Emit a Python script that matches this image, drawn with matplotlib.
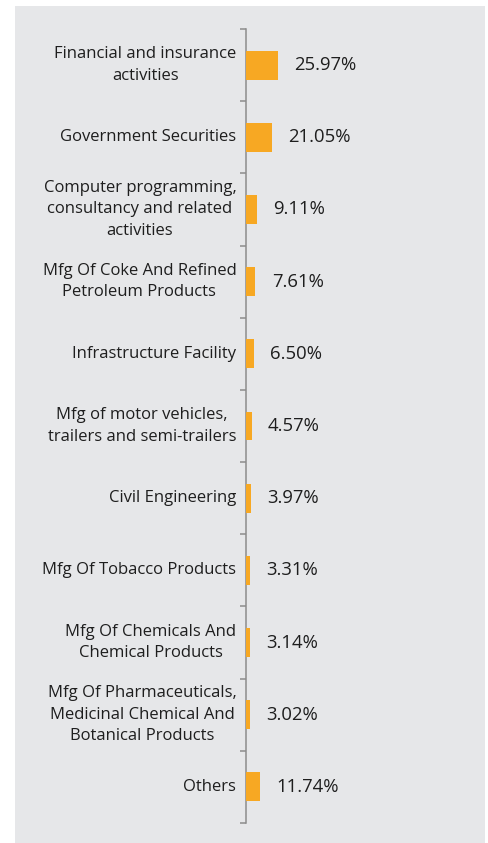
import matplotlib.pyplot as plt
from matplotlib.patches import Rectangle
import numpy as np

plt.rcParams['font.family'] = ['Open Sans', 'DejaVu Sans']

# Sector allocation (% of net assets)
sectors = [
    'Financial and insurance\nactivities',
    'Government Securities',
    'Computer programming,\nconsultancy and related\nactivities',
    'Mfg Of Coke And Refined\nPetroleum Products',
    'Infrastructure Facility',
    'Mfg of motor vehicles,\ntrailers and semi-trailers',
    'Civil Engineering',
    'Mfg Of Tobacco Products',
    'Mfg Of Chemicals And\nChemical Products',
    'Mfg Of Pharmaceuticals,\nMedicinal Chemical And\nBotanical Products',
    'Others',
]
weights = [25.97, 21.05, 9.11, 7.61, 6.50, 4.57, 3.97, 3.31, 3.14, 3.02, 11.74]

W, H = 489, 843
fig = plt.figure(figsize=(W / 100, H / 100), dpi=100)
fig.patch.set_facecolor('white')

# grey backdrop panel, kept behind the axes
fig.patches.append(Rectangle((15 / W, 0), 470 / W, 1 - 6 / H, transform=fig.transFigure,
                             facecolor='#E6E7E9', edgecolor='none', zorder=-10))

ax = fig.add_axes([246 / W, 1 - 823 / H, 239 / W, (823 - 29) / H])
ax.set_facecolor('none')

y = np.arange(len(sectors))
ax.barh(y, weights, height=0.4, color='#F7A823', zorder=3)

for yi, w in zip(y, weights):
    ax.text(w + 13.5, yi, f'{w:.2f}%', va='center', ha='left', fontsize=13.3, color='#1E1E1E')

ax.set_xlim(0, 196)
ax.set_ylim(len(sectors) - 0.5, -0.5)

ax.set_yticks(y)
ax.set_yticklabels(sectors, fontsize=12, color='#1E1E1E', multialignment='center', linespacing=1.45)
for lbl in ax.get_yticklabels():
    lbl.set_va('center')
ax.tick_params(axis='y', which='major', length=0, pad=7)
ax.set_yticks(np.arange(len(sectors) + 1) - 0.5, minor=True)
ax.tick_params(axis='y', which='minor', length=4, width=1.1, color='#8C8C8C')
ax.set_xticks([])

for side in ['top', 'right', 'bottom']:
    ax.spines[side].set_visible(False)
ax.spines['left'].set_color('#8C8C8C')
ax.spines['left'].set_linewidth(1.1)

plt.savefig('out.png', dpi=100, facecolor='white')
plt.close()
